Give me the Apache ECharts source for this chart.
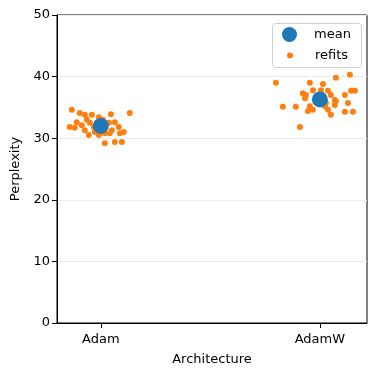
<!DOCTYPE html>
<html><head><meta charset="utf-8">
<script src="https://cdn.jsdelivr.net/npm/echarts@6/dist/echarts.min.js"></script>
<style>html,body{margin:0;padding:0;background:#fff}#c{width:376px;height:376px}</style>
</head><body><div id="c"></div>
<script>
const categories = ['Adam', 'AdamW'];
const yTicks = [0, 10, 20, 30, 40, 50];
const meanValues = [32.0, 36.3];
// refits: jitter offset (in category units) and perplexity
const adamJitter = [-0.132,-0.096,-0.073,-0.041,-0.009,0.046,0.132,-0.142,-0.110,-0.087,-0.064,-0.050,-0.032,-0.073,-0.027,0.037,0.064,0.082,0.050,0.087,0.105,0.018,-0.055,-0.009,0.018,0.064,0.096,-0.119,0.041,0.009];
const adamValues = [34.6,34.1,33.8,33.8,33.4,33.9,34.1,31.8,32.6,32.1,33.0,32.5,31.8,31.3,31.0,32.5,32.6,31.8,31.3,30.8,31.0,30.8,30.5,30.5,29.2,29.4,29.4,31.7,30.8,33.0];
const adamwJitter = [-0.201,-0.046,0.014,0.073,0.137,-0.032,0.005,0.037,-0.078,-0.068,0.050,0.114,0.142,0.160,0.068,0.068,0.128,-0.046,0.023,0.037,-0.032,-0.055,-0.169,-0.110,0.050,0.114,0.151,0.027,0.073,-0.064,-0.091];
const adamwValues = [39.0,39.0,38.8,39.8,40.3,37.8,37.8,37.7,37.3,36.5,37.0,37.0,37.7,37.7,36.2,35.4,35.7,35.2,35.2,34.6,34.6,34.4,35.1,35.1,33.8,34.3,34.3,35.7,36.0,37.0,31.8];

const refits = [];
adamValues.forEach((v, i) => refits.push([0 + adamJitter[i], v]));
adamwValues.forEach((v, i) => refits.push([1 + adamwJitter[i], v]));
const means = meanValues.map((v, i) => [i, v]);

const font = 'DejaVu Sans';
const chart = echarts.init(document.getElementById('c'), null, {renderer: 'canvas'});
chart.setOption({
  animation: false,
  textStyle: {fontFamily: font},
  grid: {left: 57, right: 9, top: 15, bottom: 53, show: true, borderColor: '#000', borderWidth: 1},
  xAxis: {
    type: 'value', min: -0.2, max: 1.215,
    name: 'Architecture', nameLocation: 'middle', nameGap: 30,
    nameTextStyle: {fontFamily: font, fontSize: 13, color: '#000'},
    axisLine: {show: true, onZero: false, lineStyle: {color: '#000'}},
    axisTick: {show: true, inside: false, length: 5, customValues: [0, 1], lineStyle: {color: '#000'}},
    axisLabel: {customValues: [0, 1], formatter: v => categories[Math.round(v)], fontFamily: font, fontSize: 13, color: '#000', margin: 10},
    splitLine: {show: false}
  },
  yAxis: {
    type: 'value', min: yTicks[0], max: yTicks[yTicks.length - 1], interval: 10,
    name: 'Perplexity', nameLocation: 'middle', nameGap: 33,
    nameTextStyle: {fontFamily: font, fontSize: 13, color: '#000'},
    axisLine: {show: true, onZero: false, lineStyle: {color: '#000'}},
    axisTick: {show: true, inside: false, length: 5, lineStyle: {color: '#000'}},
    axisLabel: {fontFamily: font, fontSize: 13, color: '#000', margin: 7},
    splitLine: {show: true, lineStyle: {color: '#ebebeb', width: 1}}
  },
  legend: [
    {data: ['mean'], left: 277, top: 22, itemWidth: 15, itemHeight: 15, icon: 'circle', itemGap: 0, z: 20,
     textStyle: {fontFamily: font, fontSize: 13, color: '#000', padding: [0, 0, 0, 12]}},
    {data: ['refits'], left: 282, top: 44, itemWidth: 6, itemHeight: 6, icon: 'circle', z: 20,
     textStyle: {fontFamily: font, fontSize: 13, color: '#000', padding: [0, 0, 0, 17]}}
  ],
  graphic: [{type: 'rect', left: 272, top: 23, shape: {width: 89, height: 44, r: 3},
    style: {fill: 'rgba(255,255,255,0.8)', stroke: '#d0d0d0', lineWidth: 1}, z: 5}],
  series: [
    {name: 'refits', type: 'scatter', data: refits, symbolSize: 6, itemStyle: {color: '#ff7f0e', opacity: 1}, z: 2},
    {name: 'mean', type: 'scatter', data: means, symbolSize: 16, itemStyle: {color: '#1f77b4', opacity: 1}, z: 3}
  ]
});
</script></body></html>
